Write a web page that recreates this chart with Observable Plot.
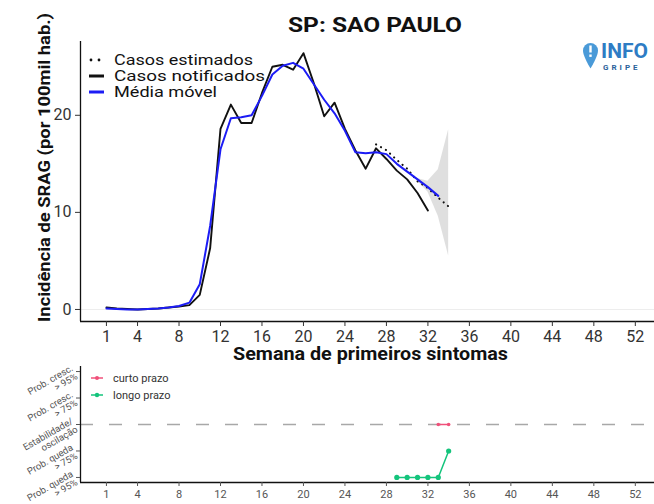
<!DOCTYPE html>
<html><head><meta charset="utf-8">
<script src="https://cdn.jsdelivr.net/npm/d3@7"></script>
<script src="https://cdn.jsdelivr.net/npm/@observablehq/plot@0.6"></script>
<style>
body{margin:0;background:#fff;font-family:Roboto,sans-serif;}
#wrap{position:relative;width:654px;height:504px;overflow:hidden;background:#fff;}
#wrap > svg, #wrap > figure{position:absolute;left:0;margin:0;}
</style></head><body><div id="wrap"></div>
<script>
// ---- data ----
const notifWeeks = [1,2,3,4,5,6,7,8,9,10,11,12,13,14,15,16,17,18,19,20,21,22,23,24,25,26,27,28,29,30,31,32];
const notified   = [0.2,0.1,0.05,0.0,0.05,0.1,0.2,0.3,0.45,1.5,6.3,18.6,21.1,19.2,19.2,22.3,25.0,25.2,24.7,26.4,23.3,19.9,21.3,18.6,16.4,14.5,16.6,15.5,14.3,13.4,12.0,10.2];
const avgWeeks   = [1,2,3,4,5,6,7,8,9,10,11,12,13,14,15,16,17,18,19,20,21,22,23,24,25,26,27,28,29,30,31,32,33];
const movingAvg  = [0.1,0.05,0.0,0.0,0.05,0.1,0.2,0.35,0.7,2.6,8.6,16.5,19.7,19.8,20.0,22.0,24.2,25.1,25.4,24.8,23.2,21.6,20.2,18.4,16.2,16.1,16.2,16.0,15.0,14.2,13.4,12.6,11.7];
const estWeeks   = [27,28,29,30,31,32,33,34];
const estimated  = [17.0,16.4,15.4,14.5,13.2,12.5,11.5,10.6];
const bandWeeks  = [31,32,33,34];
const bandLow    = [13.2,12.1,9.6,5.5];
const bandHigh   = [13.5,13.2,14.4,18.5];
const xTicks     = [1,4,8,12,16,20,24,28,32,36,40,44,48,52];
const yTicks     = [0,10,20];
const trendLevels = [1,2,3,4,5];
const trendLabels = ["Prob. queda\n> 95%","Prob. queda\n> 75%","Estabilidade/\noscilação","Prob. cresc.\n> 75%","Prob. cresc.\n> 95%"];
const shortWeeks = [33,34];
const shortLevel = [3,3];
const longWeeks  = [29,30,31,32,33,34];
const longLevel  = [1,1,1,1,1,2];

const notifData = notifWeeks.map((w,i)=>({w, v:notified[i]}));
const avgData   = avgWeeks.map((w,i)=>({w, v:movingAvg[i]}));
const estData   = estWeeks.map((w,i)=>({w, v:estimated[i]}));
const bandData  = bandWeeks.map((w,i)=>({w, lo:bandLow[i], hi:bandHigh[i]}));
const shortData = shortWeeks.map((w,i)=>({w, l:shortLevel[i]}));
const longData  = longWeeks.map((w,i)=>({w, l:longLevel[i]}));

const xDomain = [-1.5, 53.85];
const yDomain = [-1.24, 27.6];
const tDomain = [0.81, 5.19];
const blue = "#1c1cf5", red = "#f0507a", green = "#14c47c";

const wrap = document.getElementById("wrap");

const main = Plot.plot({
  width: 654, height: 362,
  marginLeft: 80, marginRight: 0, marginTop: 41, marginBottom: 41,
  style: {background: "transparent", fontFamily: "Roboto", overflow: "visible"},
  x: {domain: xDomain}, y: {domain: yDomain},
  marks: [
    Plot.ruleY([0], {stroke: "#ededed", strokeWidth: 1}),
    Plot.areaY(bandData, {x: "w", y1: "lo", y2: "hi", fill: "#d2d2d2", fillOpacity: 0.7}),
    Plot.line(notifData, {x: "w", y: "v", stroke: "#111", strokeWidth: 1.9}),
    Plot.line(estData, {x: "w", y: "v", stroke: "#111", strokeWidth: 2.1, strokeDasharray: "0.1,5.5", strokeLinecap: "round"}),
    Plot.line(avgData, {x: "w", y: "v", stroke: blue, strokeWidth: 2}),
    Plot.ruleX([xDomain[0]], {stroke: "#111", strokeWidth: 1.3}),
    Plot.ruleY([yDomain[0]], {stroke: "#111", strokeWidth: 1.3}),
    Plot.axisX({ticks: xTicks, tickSize: 5, tickPadding: 4, fontSize: 16, color: "#333", label: null}),
    Plot.axisY({ticks: yTicks, tickSize: 5, tickPadding: 4, fontSize: 16, color: "#333", label: null})
  ]
});
main.style.top = "0px";
wrap.appendChild(main);

const bottom = Plot.plot({
  width: 654, height: 142,
  marginLeft: 80, marginRight: 0, marginTop: 4, marginBottom: 22,
  style: {background: "transparent", fontFamily: "Roboto", overflow: "visible"},
  x: {domain: xDomain}, y: {domain: tDomain},
  marks: [
    Plot.ruleY([3], {stroke: "#a8a8a8", strokeWidth: 1.6, strokeDasharray: "13,16"}),
    Plot.line(shortData, {x: "w", y: "l", stroke: red, strokeWidth: 1.6}),
    Plot.dot(shortData, {x: "w", y: "l", fill: red, r: 1.8}),
    Plot.line(longData, {x: "w", y: "l", stroke: green, strokeWidth: 1.5}),
    Plot.dot(longData, {x: "w", y: "l", fill: green, r: 2.6}),
    Plot.ruleX([xDomain[0]], {stroke: "#111", strokeWidth: 1.3}),
    Plot.ruleY([tDomain[0]], {stroke: "#111", strokeWidth: 1.6}),
    Plot.axisX({ticks: xTicks, tickSize: 4, tickPadding: 4, fontSize: 11, color: "#555", label: null}),
    Plot.axisY({ticks: trendLevels, tickFormat: d => trendLabels[d - 1], tickRotate: -30, tickSize: 4, tickPadding: 2, fontSize: 9.5, color: "#555", label: null, lineHeight: 1})
  ]
});
bottom.style.top = "362px";
wrap.appendChild(bottom);

// ---- overlay text: titles, legends, logo ----
const ns = "http://www.w3.org/2000/svg";
const ov = document.createElementNS(ns, "svg");
ov.setAttribute("width", 654); ov.setAttribute("height", 504);
ov.style.position = "absolute"; ov.style.top = "0px"; ov.style.left = "0px"; ov.style.pointerEvents = "none";
ov.style.fontFamily = "Roboto, sans-serif";
ov.innerHTML = `
  <text x="288" y="31.5" font-weight="bold" font-size="21" fill="#111" textLength="174" lengthAdjust="spacingAndGlyphs">SP: SAO PAULO</text>
  <text transform="translate(50,322) rotate(-90)" font-weight="bold" font-size="17" fill="#111" textLength="309" lengthAdjust="spacingAndGlyphs">Incidência de SRAG (por 100mil hab.)</text>
  <text x="233" y="360" font-weight="bold" font-size="17.5" fill="#111" textLength="275" lengthAdjust="spacingAndGlyphs">Semana de primeiros sintomas</text>
  <g font-size="14" fill="#111">
    <circle cx="91" cy="60" r="1.4" fill="#111"/><circle cx="99" cy="60" r="1.4" fill="#111"/>
    <text x="114" y="65" textLength="139" lengthAdjust="spacingAndGlyphs">Casos estimados</text>
    <line x1="89" x2="104" y1="76" y2="76" stroke="#111" stroke-width="3"/>
    <text x="114" y="81" textLength="151" lengthAdjust="spacingAndGlyphs">Casos notificados</text>
    <line x1="89" x2="104" y1="92" y2="92" stroke="${blue}" stroke-width="3"/>
    <text x="114" y="97" textLength="103" lengthAdjust="spacingAndGlyphs">Média móvel</text>
  </g>
  <g font-size="11" fill="#333">
    <line x1="91" x2="103" y1="378" y2="378" stroke="${red}" stroke-width="1.5"/><circle cx="97" cy="378" r="2" fill="${red}"/>
    <text x="113" y="382">curto prazo</text>
    <line x1="91" x2="103" y1="395" y2="395" stroke="${green}" stroke-width="1.5"/><circle cx="97" cy="395" r="2.2" fill="${green}"/>
    <text x="113" y="399">longo prazo</text>
  </g>
  <g>
    <path d="M590.5 43 a7.5 7.5 0 0 1 7.5 7.5 c0 6 -7.5 18 -7.5 18 c0 0 -7.5 -12 -7.5 -18 a7.5 7.5 0 0 1 7.5 -7.5z" fill="#4a9ad8"/>
    <rect x="589.3" y="45.5" width="2.4" height="7" fill="#fff"/><rect x="589.3" y="54.5" width="2.4" height="2.4" fill="#fff"/>
    <text x="601" y="58" font-size="21" font-weight="bold" fill="#2e7cc4">INFO</text>
    <text x="603" y="70" font-size="8" font-weight="bold" fill="#2a5f9a" letter-spacing="3">GRIPE</text>
  </g>
`;
wrap.appendChild(ov);
</script>
</body></html>
